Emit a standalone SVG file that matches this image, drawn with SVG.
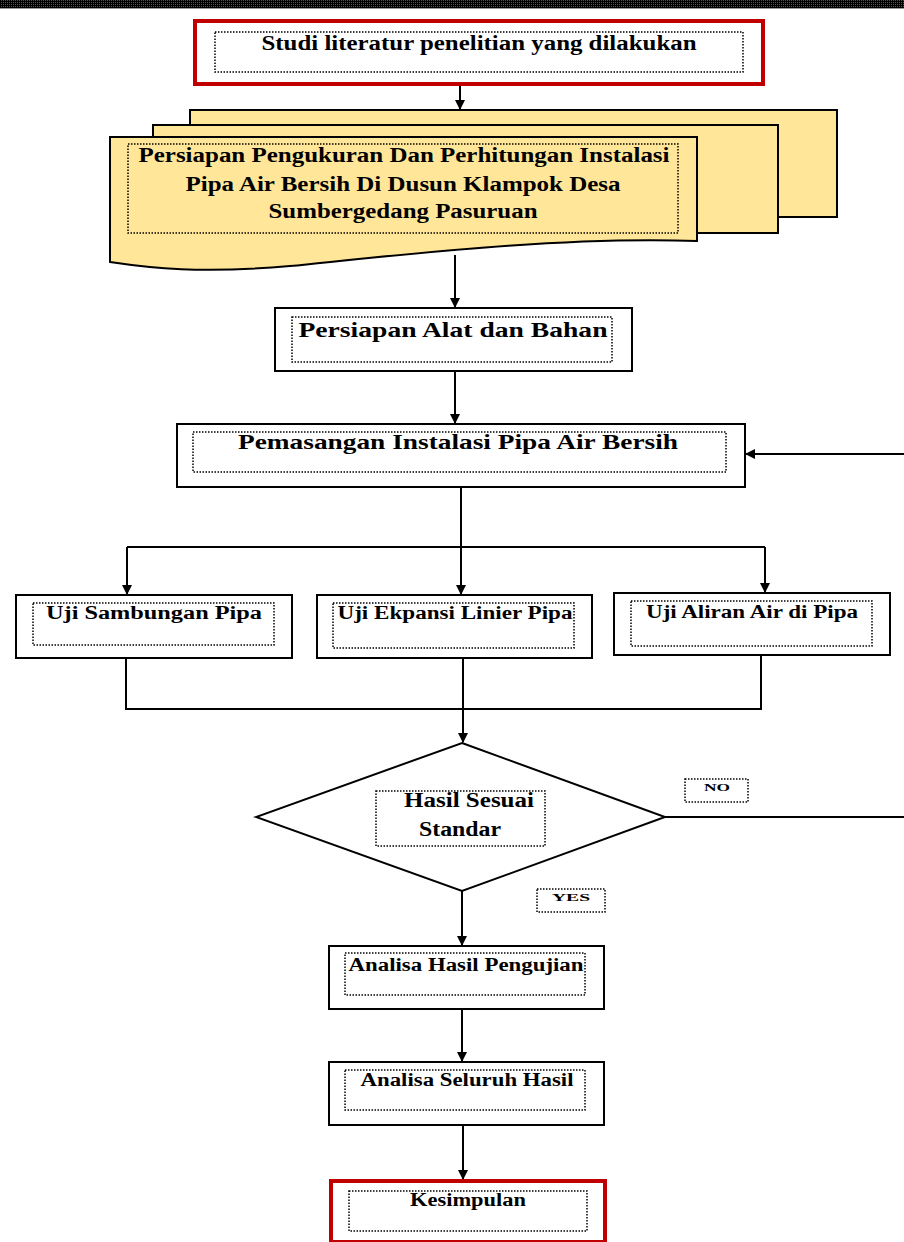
<svg xmlns="http://www.w3.org/2000/svg" width="904" height="1242" viewBox="0 0 904 1242">
<defs>
<marker id="ah" markerWidth="10" markerHeight="10" refX="9" refY="5" orient="auto" markerUnits="userSpaceOnUse">
<path d="M0,0 L10,5 L0,10 Z" fill="#000"/>
</marker>
<pattern id="bar" width="2" height="2" patternUnits="userSpaceOnUse">
<rect width="2" height="2" fill="#000"/>
<rect x="1" y="0" width="1" height="1" fill="#555"/>
</pattern>
</defs>
<style>
.box{fill:#fff;stroke:#000;stroke-width:2}
.red{fill:#fff;stroke:#c00000;stroke-width:4}
.doc{fill:#ffe699;stroke:#000;stroke-width:2}
.dot{fill:none;stroke:#000;stroke-width:1.5;stroke-dasharray:1.5 1.5}
.t{font-family:"Liberation Serif","Times New Roman",serif;font-weight:bold;fill:#000;text-anchor:middle}
.ln{fill:none;stroke:#000;stroke-width:2}
</style>
<rect x="0" y="0" width="904" height="8" fill="url(#bar)"/>
<line x1="0" y1="8.5" x2="904" y2="8.5" stroke="#999" stroke-width="1"/>

<g id="connectors">
<line class="ln" x1="460" y1="84" x2="460" y2="109" marker-end="url(#ah)"/>
<line class="ln" x1="455" y1="255" x2="455" y2="307" marker-end="url(#ah)"/>
<line class="ln" x1="455" y1="371" x2="455" y2="423" marker-end="url(#ah)"/>
<line class="ln" x1="904" y1="454" x2="746" y2="454" marker-end="url(#ah)"/>
<polyline class="ln" points="461,487 461,547"/>
<line class="ln" x1="127" y1="547" x2="765" y2="547"/>
<line class="ln" x1="127" y1="547" x2="127" y2="594" marker-end="url(#ah)"/>
<line class="ln" x1="461" y1="547" x2="461" y2="594" marker-end="url(#ah)"/>
<line class="ln" x1="765" y1="547" x2="765" y2="592" marker-end="url(#ah)"/>
<polyline class="ln" points="126,658 126,709 761,709 761,655"/>
<line class="ln" x1="463" y1="658" x2="463" y2="742" marker-end="url(#ah)"/>
<line class="ln" x1="665" y1="817" x2="904" y2="817"/>
<line class="ln" x1="462" y1="891" x2="462" y2="945" marker-end="url(#ah)"/>
<line class="ln" x1="462" y1="1009" x2="462" y2="1061" marker-end="url(#ah)"/>
<line class="ln" x1="463" y1="1125" x2="463" y2="1179" marker-end="url(#ah)"/>
</g>

<g id="n1">
<rect class="red" x="195" y="21" width="568" height="63"/>
<rect class="dot" x="215" y="32" width="528" height="40"/>
<text class="t" x="479" y="50" font-size="20" textLength="435" lengthAdjust="spacingAndGlyphs">Studi literatur penelitian yang dilakukan</text>
</g>

<g id="n2">
<rect class="doc" x="190" y="110" width="647" height="107"/>
<rect class="doc" x="153" y="125" width="625" height="108"/>
<path class="doc" d="M110,137 L697,137 L697,241 C560,236 400,255 290,266 C200,274 150,268 110,262 Z"/>
<rect class="dot" x="128" y="144" width="550" height="89"/>
<text class="t" x="404" y="162" font-size="20" textLength="531" lengthAdjust="spacingAndGlyphs">Persiapan Pengukuran Dan Perhitungan Instalasi</text>
<text class="t" x="403" y="191" font-size="20" textLength="435" lengthAdjust="spacingAndGlyphs">Pipa Air Bersih Di Dusun Klampok Desa</text>
<text class="t" x="403" y="218" font-size="20" textLength="269" lengthAdjust="spacingAndGlyphs">Sumbergedang Pasuruan</text>
</g>

<g id="n3">
<rect class="box" x="275" y="308" width="357" height="63"/>
<rect class="dot" x="292" y="317" width="320" height="45"/>
<text class="t" x="453" y="337" font-size="22" textLength="309" lengthAdjust="spacingAndGlyphs">Persiapan Alat dan Bahan</text>
</g>

<g id="n4">
<rect class="box" x="177" y="424" width="568" height="63"/>
<rect class="dot" x="193" y="432" width="533" height="40"/>
<text class="t" x="458" y="449" font-size="22" textLength="440" lengthAdjust="spacingAndGlyphs">Pemasangan Instalasi Pipa Air Bersih</text>
</g>

<g id="n5">
<rect class="box" x="16" y="595" width="276" height="63"/>
<rect class="dot" x="33" y="603" width="241" height="42"/>
<text class="t" x="154" y="619" font-size="18" textLength="216" lengthAdjust="spacingAndGlyphs">Uji Sambungan Pipa</text>
</g>

<g id="n6">
<rect class="box" x="317" y="595" width="275" height="63"/>
<rect class="dot" x="333" y="603" width="241" height="45"/>
<text class="t" x="455" y="619" font-size="18" textLength="235" lengthAdjust="spacingAndGlyphs">Uji Ekpansi Linier Pipa</text>
</g>

<g id="n7">
<rect class="box" x="614" y="593" width="276" height="62"/>
<rect class="dot" x="631" y="601" width="241" height="45"/>
<text class="t" x="752" y="618" font-size="18" textLength="212" lengthAdjust="spacingAndGlyphs">Uji Aliran Air di Pipa</text>
</g>

<g id="n8">
<polygon class="box" points="462,743 665,817 462,891 256,817"/>
<rect class="dot" x="376" y="791" width="169" height="55"/>
<text class="t" x="469" y="807" font-size="20" textLength="130" lengthAdjust="spacingAndGlyphs">Hasil Sesuai</text>
<text class="t" x="460" y="836" font-size="20" textLength="82" lengthAdjust="spacingAndGlyphs">Standar</text>
</g>

<g id="lblNo">
<rect class="dot" x="685" y="779" width="63" height="23"/>
<text class="t" x="717" y="791" font-size="10" textLength="26" lengthAdjust="spacingAndGlyphs">NO</text>
</g>

<g id="lblYes">
<rect class="dot" x="537" y="889" width="68" height="23"/>
<text class="t" x="571" y="901" font-size="10" textLength="38" lengthAdjust="spacingAndGlyphs">YES</text>
</g>

<g id="n9">
<rect class="box" x="329" y="946" width="275" height="63"/>
<rect class="dot" x="345" y="953" width="240" height="42"/>
<text class="t" x="466" y="971" font-size="18" textLength="235" lengthAdjust="spacingAndGlyphs">Analisa Hasil Pengujian</text>
</g>

<g id="n10">
<rect class="box" x="329" y="1062" width="275" height="63"/>
<rect class="dot" x="345" y="1070" width="240" height="40"/>
<text class="t" x="467" y="1086" font-size="18" textLength="213" lengthAdjust="spacingAndGlyphs">Analisa Seluruh Hasil</text>
</g>

<g id="n11">
<rect class="red" x="331" y="1181" width="274" height="61"/>
<rect class="dot" x="349" y="1191" width="238" height="40"/>
<text class="t" x="468" y="1206" font-size="18" textLength="116" lengthAdjust="spacingAndGlyphs">Kesimpulan</text>
</g>
</svg>
